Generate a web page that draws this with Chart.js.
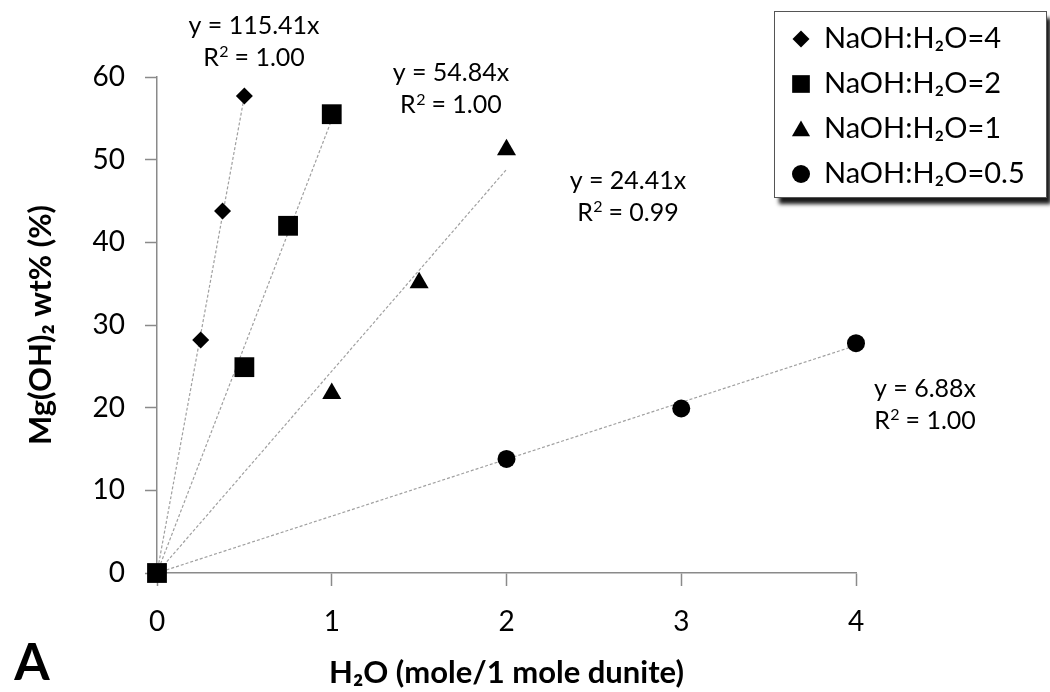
<!DOCTYPE html>
<html>
<head>
<meta charset="utf-8">
<script src="https://cdn.jsdelivr.net/npm/chart.js@4.4.0/dist/chart.umd.min.js"></script>
<style>
html, body { margin: 0; padding: 0; background: #fff; }
#wrap { width: 1050px; height: 692px; }
</style>
</head>
<body>
<div id="wrap"><canvas id="chart" width="1050" height="692"></canvas></div>
<script>
// series names and marker shapes
var seriesNames = ['NaOH:H\u2082O=4', 'NaOH:H\u2082O=2', 'NaOH:H\u2082O=1', 'NaOH:H\u2082O=0.5'];
var markerStyles = ['rectRot', 'rect', 'triangle', 'circle'];

// H2O (mole / 1 mole dunite) vs Mg(OH)2 wt%
var ratio4X = [0.25, 0.375, 0.5];
var ratio4Y = [28.2, 43.8, 57.7];
var ratio2X = [0, 0.5, 0.75, 1];
var ratio2Y = [0, 24.9, 42.0, 55.5];
var ratio1X = [1, 1.5, 2];
var ratio1Y = [21.7, 35.1, 51.2];
var ratio05X = [2, 3, 4];
var ratio05Y = [13.8, 19.9, 27.8];

// linear trendlines through origin (y = kx), as printed on the chart
var slopes = [115.41, 54.84, 24.41, 6.88];
var rSquared = ['1.00', '1.00', '0.99', '1.00'];
var trendEndX = [0.5, 1, 2, 4];

// axis ticks
var xTicks = [0, 1, 2, 3, 4];
var yTicks = [0, 10, 20, 30, 40, 50, 60];

var FONT = 'Lato, "Open Sans", sans-serif';

function toPoints(xs, ys) {
    return xs.map(function (x, i) { return { x: x, y: ys[i] }; });
}

var seriesX = [ratio4X, ratio2X, ratio1X, ratio05X];
var seriesY = [ratio4Y, ratio2Y, ratio1Y, ratio05Y];
var markerRadius = [8.5, 14, 11, 9];

var datasets = [];
seriesNames.forEach(function (name, i) {
    datasets.push({
        label: name,
        data: toPoints(seriesX[i], seriesY[i]),
        pointStyle: markerStyles[i],
        pointRadius: markerRadius[i],
        pointBackgroundColor: '#000',
        pointBorderColor: '#000',
        pointBorderWidth: 0,
        showLine: false,
        clip: false,
        order: 1
    });
});
slopes.forEach(function (k, i) {
    datasets.push({
        label: 'trend ' + i,
        data: [{ x: 0, y: 0 }, { x: trendEndX[i], y: k * trendEndX[i] }],
        showLine: true,
        pointRadius: 0,
        borderColor: '#a0a0a0',
        borderWidth: 1.2,
        borderDash: [3, 2],
        clip: false,
        order: 2
    });
});

// equation label anchors (centre of the two-line block, in data units)
var eqAnchors = [
    { x: 0.555, y: 64.2 },
    { x: 1.682, y: 58.5 },
    { x: 2.695, y: 45.5 },
    { x: 4.395, y: 20.3 }
];

function drawMarker(ctx, style, r, x, y) {
    if (Chart.helpers && Chart.helpers.drawPoint) {
        Chart.helpers.drawPoint(ctx, { pointStyle: style, radius: r, borderWidth: 0, rotation: 0 }, x, y);
        return;
    }
    ctx.beginPath();
    ctx.arc(x, y, r, 0, Math.PI * 2);
    ctx.fill();
}

// "R² = 0.99" with a proper-sized superscript
function drawRSquared(ctx, value, cx, cy) {
    var big = '25px ' + FONT, small = '16px ' + FONT;
    ctx.font = big;
    var wR = ctx.measureText('R').width;
    var rest = ' = ' + value;
    var wRest = ctx.measureText(rest).width;
    ctx.font = small;
    var w2 = ctx.measureText('2').width;
    var x0 = cx - (wR + w2 + wRest) / 2;
    ctx.textAlign = 'left';
    ctx.font = big;
    ctx.fillText('R', x0, cy);
    ctx.font = small;
    ctx.fillText('2', x0 + wR + 0.5, cy - 6);
    ctx.font = big;
    ctx.fillText(rest, x0 + wR + w2, cy);
}

var extrasPlugin = {
    id: 'extras',
    afterDraw: function (chart) {
        var ctx = chart.ctx;
        var sx = chart.scales.x, sy = chart.scales.y;
        ctx.save();

        // trendline equations
        ctx.fillStyle = '#000';
        ctx.textBaseline = 'middle';
        eqAnchors.forEach(function (a, i) {
            var px = sx.getPixelForValue(a.x), py = sy.getPixelForValue(a.y);
            ctx.font = '25px ' + FONT;
            ctx.textAlign = 'center';
            ctx.fillText('y = ' + slopes[i].toFixed(2) + 'x', px, py - 16);
            drawRSquared(ctx, rSquared[i], px, py + 16);
        });

        // legend box with shadow
        var bx = 774, by = 11, bw = 272, bh = 186;
        ctx.save();
        ctx.shadowColor = 'rgba(0,0,0,0.9)';
        ctx.shadowBlur = 4;
        ctx.shadowOffsetX = 5;
        ctx.shadowOffsetY = 7;
        ctx.fillStyle = '#fff';
        ctx.fillRect(bx, by, bw, bh);
        ctx.restore();
        ctx.strokeStyle = '#555';
        ctx.lineWidth = 1;
        ctx.strokeRect(bx + 0.5, by + 0.5, bw, bh);

        var legendR = [8.5, 12.5, 10.5, 9];
        ctx.font = '29px ' + FONT;
        ctx.textAlign = 'left';
        seriesNames.forEach(function (name, i) {
            var ly = 39 + i * 45;
            ctx.fillStyle = '#000';
            drawMarker(ctx, markerStyles[i], legendR[i], 801, ly + (markerStyles[i] === 'triangle' ? 2 : 0));
            ctx.fillText(name, 824, ly);
        });

        // panel letter
        ctx.font = 'bold 51px ' + FONT;
        ctx.textAlign = 'center';
        ctx.textBaseline = 'alphabetic';
        ctx.fillText('A', 32, 680);
        ctx.restore();
    }
};

var ctx = document.getElementById('chart').getContext('2d');
var mgChart = new Chart(ctx, {
    type: 'scatter',
    data: { datasets: datasets },
    options: {
        responsive: false,
        animation: false,
        layout: { padding: { top: 77, right: 194, left: 0, bottom: 0 } },
        plugins: {
            legend: { display: false },
            tooltip: { enabled: false }
        },
        scales: {
            x: {
                type: 'linear',
                min: 0,
                max: 4,
                afterBuildTicks: function (axis) {
                    axis.ticks = xTicks.map(function (v) { return { value: v }; });
                },
                afterFit: function (axis) { axis.height = 119; },
                border: { color: '#8a8a8a', width: 1.5 },
                grid: { drawOnChartArea: false, drawTicks: true, tickLength: 13, tickColor: '#8a8a8a', tickWidth: 1.5 },
                ticks: { color: '#000', font: { family: FONT, size: 28 }, padding: 19 },
                title: {
                    display: true,
                    text: 'H\u2082O (mole/1 mole dunite)',
                    color: '#000',
                    font: { family: FONT, size: 31, weight: 'bold' },
                    padding: { top: 0, bottom: 0 }
                }
            },
            y: {
                type: 'linear',
                min: 0,
                max: 60,
                afterBuildTicks: function (axis) {
                    axis.ticks = yTicks.map(function (v) { return { value: v }; });
                },
                afterFit: function (axis) { axis.width = 157; },
                border: { color: '#8a8a8a', width: 1.5 },
                grid: { drawOnChartArea: false, drawTicks: true, tickLength: 12, tickColor: '#8a8a8a', tickWidth: 1.5 },
                ticks: { color: '#000', font: { family: FONT, size: 28 }, padding: 20 },
                title: {
                    display: true,
                    text: 'Mg(OH)\u2082 wt% (%)',
                    color: '#000',
                    font: { family: FONT, size: 31, weight: 'bold' },
                    padding: { top: 22, bottom: 0 }
                }
            }
        }
    },
    plugins: [extrasPlugin]
});
</script>
</body>
</html>
